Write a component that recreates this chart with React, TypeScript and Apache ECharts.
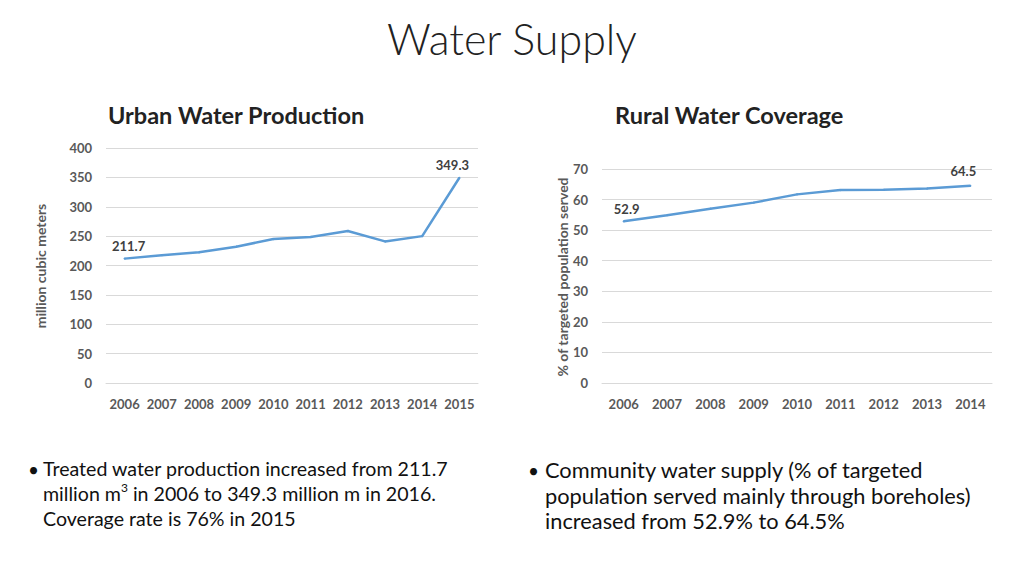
import React, { useEffect, useRef } from "react";
import * as echarts from "echarts";

const urbanYears = ["2006", "2007", "2008", "2009", "2010", "2011", "2012", "2013", "2014", "2015"];
const urbanValues = [211.7, 217.5, 222.5, 232, 245, 248.5, 258.7, 241, 250, 349.3];
const ruralYears = ["2006", "2007", "2008", "2009", "2010", "2011", "2012", "2013", "2014"];
const ruralValues = [52.9, 54.9, 57.0, 59.0, 61.7, 63.1, 63.2, 63.6, 64.5];
const urbanTicks = { min: 0, max: 400, interval: 50 };
const ruralTicks = { min: 0, max: 70, interval: 10 };

const FONT = "Lato";
const LINE = "#5B9BD5";
const AXIS_TXT = "#595959";
const GRID = "#D9D9D9";

function labelled(values: number[], offs: { first: number[]; last: number[] }) {
  return values.map((v, i) => {
    if (i === 0 || i === values.length - 1) {
      return {
        value: v,
        label: {
          show: true,
          position: "top",
          distance: 5,
          offset: i === 0 ? offs.first : offs.last,
          color: "#404040",
          fontFamily: FONT,
          fontWeight: "bold",
          fontSize: 13,
          formatter: (p: any) => String(p.value),
        },
      };
    }
    return v;
  });
}

export default function App() {
  const ref = useRef<HTMLDivElement>(null);
  useEffect(() => {
    const chart = echarts.init(ref.current!, null, { renderer: "svg" });
    const axisLabel = { color: AXIS_TXT, fontFamily: FONT, fontWeight: "bold", fontSize: 13 };
    chart.setOption({
      animation: false,
      backgroundColor: "#fff",
      grid: [
        { left: 106, right: 546, top: 148, bottom: 193 },
        { left: 602, right: 32, top: 169, bottom: 193 },
      ],
      xAxis: [
        {
          type: "category",
          gridIndex: 0,
          data: urbanYears,
          boundaryGap: true,
          axisLine: { show: true, lineStyle: { color: GRID } },
          axisTick: { show: false },
          axisLabel: { ...axisLabel, margin: 14, interval: 0 },
        },
        {
          type: "category",
          gridIndex: 1,
          data: ruralYears,
          boundaryGap: true,
          axisLine: { show: true, lineStyle: { color: GRID } },
          axisTick: { show: false },
          axisLabel: { ...axisLabel, margin: 14, interval: 0 },
        },
      ],
      yAxis: [
        {
          type: "value",
          gridIndex: 0,
          ...urbanTicks,
          axisLine: { show: false },
          axisTick: { show: false },
          splitLine: { lineStyle: { color: GRID } },
          axisLabel: { ...axisLabel, margin: 14 },
        },
        {
          type: "value",
          gridIndex: 1,
          ...ruralTicks,
          axisLine: { show: false },
          axisTick: { show: false },
          splitLine: { lineStyle: { color: GRID } },
          axisLabel: { ...axisLabel, margin: 14 },
        },
      ],
      series: [
        {
          type: "line",
          xAxisIndex: 0,
          yAxisIndex: 0,
          data: labelled(urbanValues, { first: [4, 0], last: [-7, 0] }),
          symbol: "circle",
          symbolSize: 2,
          showSymbol: true,
          itemStyle: { color: LINE },
          lineStyle: { color: LINE, width: 2.5 },
        },
        {
          type: "line",
          xAxisIndex: 1,
          yAxisIndex: 1,
          data: labelled(ruralValues, { first: [3, 0], last: [-7, -2] }),
          symbol: "circle",
          symbolSize: 2,
          showSymbol: true,
          itemStyle: { color: LINE },
          lineStyle: { color: LINE, width: 2.5 },
        },
      ],
      graphic: [
        {
          type: "text",
          x: 512,
          y: 38,
          style: { text: "Water Supply", fontFamily: FONT, fontWeight: 300, fontSize: 43, fill: "#222", align: "center", verticalAlign: "middle" },
        },
        {
          type: "text",
          x: 108,
          y: 115,
          style: { text: "Urban Water Production", fontFamily: FONT, fontWeight: "bold", fontSize: 23.5, fill: "#222", align: "left", verticalAlign: "middle" },
        },
        {
          type: "text",
          x: 615,
          y: 115,
          style: { text: "Rural Water Coverage", fontFamily: FONT, fontWeight: "bold", fontSize: 23.5, fill: "#222", align: "left", verticalAlign: "middle" },
        },
        {
          type: "text",
          x: 40,
          y: 266,
          rotation: Math.PI / 2,
          style: { text: "million cubic meters", fontFamily: FONT, fontWeight: "bold", fontSize: 14, fill: AXIS_TXT, align: "center", verticalAlign: "middle" },
        },
        {
          type: "text",
          x: 562,
          y: 277,
          rotation: Math.PI / 2,
          style: { text: "% of targeted population served", fontFamily: FONT, fontWeight: "bold", fontSize: 14, fill: AXIS_TXT, align: "center", verticalAlign: "middle" },
        },
        {
          type: "text",
          x: 28,
          y: 469,
          style: { text: "•", fontFamily: FONT, fontSize: 19, fill: "#111", align: "left", verticalAlign: "middle" },
        },
        {
          type: "text",
          x: 43,
          y: 456,
          style: {
            fontFamily: FONT,
            fontSize: 19.6,
            fill: "#111",
            lineHeight: 25,
            text: "Treated water production increased from 211.7\nmillion m{sup|3} in 2006 to 349.3 million m in 2016.\nCoverage rate is 76% in 2015",
            rich: { sup: { fontSize: 12, verticalAlign: "top", fontFamily: FONT, fill: "#111", padding: [0, 0, 6, 0] } },
          },
        },
        {
          type: "text",
          x: 528,
          y: 470,
          style: { text: "•", fontFamily: FONT, fontSize: 19, fill: "#111", align: "left", verticalAlign: "middle" },
        },
        {
          type: "text",
          x: 545,
          y: 457,
          style: {
            fontFamily: FONT,
            fontSize: 21.8,
            fill: "#111",
            lineHeight: 25.5,
            text: "Community water supply (% of targeted\npopulation served mainly through boreholes)\nincreased from 52.9% to 64.5%",
          },
        },
      ],
    });
    return () => chart.dispose();
  }, []);
  return <div ref={ref} style={{ position: "fixed", left: 0, top: 0, width: 1024, height: 576 }} />;
}
